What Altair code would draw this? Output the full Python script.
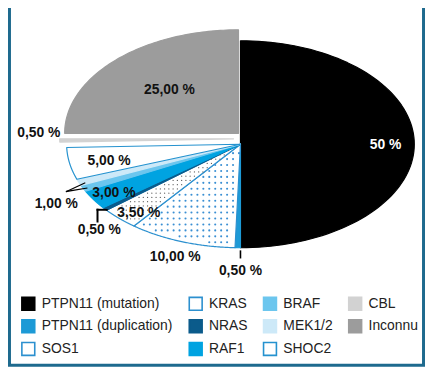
import math
import altair as alt
import pandas as pd

# ---------------- data ----------------
GENES = ["PTPN11 (mutation)", "PTPN11 (duplication)", "SOS1", "KRAS", "NRAS",
         "RAF1", "BRAF", "MEK1/2", "SHOC2", "CBL", "Inconnu"]
PCTS = [50, 0.5, 10, 3.5, 0.5, 3, 1, 1, 5, 0.5, 25]

LABEL_TEXTS = ["50 %", "0,50 %", "10,00 %", "3,50 %", "0,50 %", "3,00 %",
               "1,00 %", "5,00 %", "0,50 %", "25,00 %"]
LABEL_SLICES = [["PTPN11 (mutation)"], ["PTPN11 (duplication)"], ["SOS1"], ["KRAS"],
                ["NRAS"], ["RAF1"], ["BRAF", "MEK1/2"], ["SHOC2"], ["CBL"], ["Inconnu"]]

# ---------------- style ----------------
FILL = {
    "PTPN11 (mutation)": "#000000",
    "PTPN11 (duplication)": "#1d9ad6",
    "SOS1": "#ffffff",
    "KRAS": "#ffffff",
    "NRAS": "#0b5b8b",
    "RAF1": "#00a3e1",
    "BRAF": "#6cc6ee",
    "MEK1/2": "#cde9f8",
    "SHOC2": "#ffffff",
    "CBL": "#d2d2d2",
    "Inconnu": "#9c9c9c",
}
STROKE = dict(FILL)
STROKE.update({"SOS1": "#2c90cf", "KRAS": "#2c90cf", "SHOC2": "#2592cf"})

FONT = "Liberation Sans"
FRAME_COLOR = "#1e6a8e"

W, H = 421, 362                      # drawing area (px)
CX, CY, RX, RY = 234.7, 135.8, 175.5, 104.5   # ellipse centre / radii (px)
EXPLODE = {"Inconnu": (-2, -11), "CBL": (-7, -5.5)}   # px offsets
N_ARC = 90

# label placement style: radial factor and angular tweak (deg) around slice mid-angle
LABEL_R = [0.835, 1.224, 1.149, 0.886, 1.163, 0.865, 1.206, 0.773, 1.122, 0.575]
LABEL_DTH = [0.3, -0.9, -0.7, -2.8, -7.0, -0.3, -5.1, -1.3, 3.8, 1.3]
LABEL_COLOR = ["#ffffff"] + ["#111111"] * 9

# leader segments: (slices, dθ, r) -> (slices, dθ, r), stroke width
LEADERS = [
    ((["PTPN11 (duplication)"], -0.9, 1.033), (["PTPN11 (duplication)"], -0.9, 1.096), 1.6),
    ((["NRAS"], -3.5, 1.11), (["NRAS"], 1.1, 1.038), 2.0),
    ((["NRAS"], 1.1, 1.038), (["NRAS"], -0.8, 0.997), 2.0),
    ((["BRAF", "MEK1/2"], -1.1, 1.10), (["MEK1/2"], -1.1, 0.971), 1.2),
    ((["BRAF", "MEK1/2"], -1.1, 1.10), (["BRAF"], -0.4, 0.980), 1.2),
]

# ---------------- helpers ----------------
START, END = {}, {}
acc = 0.0
for g, p in zip(GENES, PCTS):
    START[g], END[g] = acc, acc + p
    acc += p


def mid_deg(slices):
    return (START[slices[0]] + END[slices[-1]]) / 2 * 3.6


def offset_unit(gene):
    dx, dy = EXPLODE.get(gene, (0, 0))
    return dx / RX, -dy / RY


def polar(slices, dth, r):
    a = math.radians(mid_deg(slices) + dth)
    du, dv = offset_unit(slices[0])
    return r * math.sin(a) + du, r * math.cos(a) + dv


xs = alt.Scale(domain=[(0 - CX) / RX, (W - CX) / RX], nice=False, zero=False)
ys = alt.Scale(domain=[(CY - H) / RY, CY / RY], nice=False, zero=False)

# ---------------- slices (elliptic pie) ----------------
pie_df = pd.DataFrame({"idx": list(range(len(GENES))), "gene": GENES, "pct": PCTS})

du_expr = "0"
dv_expr = "0"
for g, (dx, dy) in EXPLODE.items():
    du_expr = f"datum.gene == '{g}' ? {dx / RX} : ({du_expr})"
    dv_expr = f"datum.gene == '{g}' ? {-dy / RY} : ({dv_expr})"

legend = alt.Legend(
    title=None, orient="none", legendX=13, legendY=289, columns=4,
    symbolType="square", symbolSize=169, symbolStrokeWidth=1.6,
    labelFont=FONT, labelFontSize=14, labelColor="#222222",
    columnPadding=12, rowPadding=2, labelOffset=6, padding=0,
)

slices = (
    alt.Chart(pie_df)
    .transform_window(cum_end="sum(pct)", sort=[alt.SortField("idx")], frame=[None, 0])
    .transform_calculate(cum_start="datum.cum_end - datum.pct")
    .transform_calculate(k=f"sequence(0, {N_ARC + 2})")
    .transform_flatten(["k"])
    .transform_calculate(
        th=f"2 * PI * (datum.cum_start + datum.pct * (datum.k - 1) / {N_ARC}) / 100",
        du=du_expr,
        dv=dv_expr,
    )
    .transform_calculate(
        px="(datum.k == 0 ? 0 : sin(datum.th)) + datum.du",
        py="(datum.k == 0 ? 0 : cos(datum.th)) + datum.dv",
    )
    .mark_line(interpolate="linear-closed", strokeWidth=1.2, strokeJoin="round")
    .encode(
        x=alt.X("px:Q", scale=xs, axis=None),
        y=alt.Y("py:Q", scale=ys, axis=None),
        order=alt.Order("k:Q"),
        detail="gene:N",
        fill=alt.Fill("gene:N", legend=legend,
                      scale=alt.Scale(domain=GENES, range=[FILL[g] for g in GENES])),
        stroke=alt.Stroke("gene:N", legend=legend,
                          scale=alt.Scale(domain=GENES, range=[STROKE[g] for g in GENES])),
    )
)

# ---------------- dotted textures ----------------
def dot_layer(gene, step, color, size, margin):
    s, e = START[gene], END[gene]
    x0 = CX - RX
    y0 = CY + step / 2
    nx = int(RX / step) + 2
    ny = int(RY / step) + 2
    return (
        alt.Chart(alt.sequence(0, nx * ny, as_="i"))
        .transform_calculate(
            gx=f"{x0} + (datum.i % {nx}) * {step}",
            gy=f"{y0} + floor(datum.i / {nx}) * {step}",
        )
        .transform_calculate(
            du=f"(datum.gx - {CX}) / {RX}",
            dv=f"({CY} - datum.gy) / {RY}",
        )
        .transform_calculate(
            rr="sqrt(datum.du * datum.du + datum.dv * datum.dv)",
            fr="((atan2(datum.du, datum.dv) + 2 * PI) % (2 * PI)) / (2 * PI) * 100",
        )
        .transform_filter(
            f"datum.rr < 0.965 && datum.rr > 0.04 && datum.fr > {s + margin} && datum.fr < {e - margin}"
        )
        .mark_circle(color=color, size=size, opacity=1)
        .encode(x=alt.X("du:Q", scale=xs, axis=None), y=alt.Y("dv:Q", scale=ys, axis=None))
    )


dots_sos1 = dot_layer("SOS1", 6.0, "#3a8fd3", 4.5, 0.45)
dots_kras = dot_layer("KRAS", 4.3, "#5e5e5e", 1.6, 0.3)

# ---------------- leaders ----------------
lead_rows = []
for (s1, d1, r1), (s2, d2, r2), w in LEADERS:
    x1, y1 = polar(s1, d1, r1)
    x2, y2 = polar(s2, d2, r2)
    lead_rows.append({"x": x1, "y": y1, "x2": x2, "y2": y2, "w": w})
lead_df = pd.DataFrame(lead_rows)

leaders = alt.Chart(lead_df).mark_rule(color="#000000", strokeCap="square").encode(
    x=alt.X("x:Q", scale=xs, axis=None),
    y=alt.Y("y:Q", scale=ys, axis=None),
    x2="x2:Q",
    y2="y2:Q",
    strokeWidth=alt.StrokeWidth("w:Q", scale=None, legend=None),
)

# ---------------- labels ----------------
lab_rows = []
for t, sl, r, d, c in zip(LABEL_TEXTS, LABEL_SLICES, LABEL_R, LABEL_DTH, LABEL_COLOR):
    x, y = polar(sl, d, r)
    lab_rows.append({"x": x, "y": y, "t": t, "c": c})
lab_df = pd.DataFrame(lab_rows)

labels = alt.Chart(lab_df).mark_text(
    font=FONT, fontSize=14, fontWeight="bold", align="center", baseline="middle"
).encode(
    x=alt.X("x:Q", scale=xs, axis=None),
    y=alt.Y("y:Q", scale=ys, axis=None),
    text="t:N",
    color=alt.Color("c:N", scale=None, legend=None),
)

# ---------------- frame (decorative border; its top edge lies above the view as in the source) ----------------
frame = alt.Chart(alt.Data(values=[{}])).mark_rect(
    fillOpacity=0, stroke=FRAME_COLOR, strokeWidth=3
).encode(x=alt.value(1.5), x2=alt.value(419.5), y=alt.value(-6), y2=alt.value(359))

chart = (
    alt.layer(slices, dots_sos1, dots_kras, leaders, labels, frame)
    .properties(width=W, height=H, padding=0, autosize=alt.AutoSizeParams(type="none"),
                background="#ffffff")
    .configure_view(strokeWidth=0)
)

chart.save("out.html", embed_options={"renderer": "svg", "actions": False})
